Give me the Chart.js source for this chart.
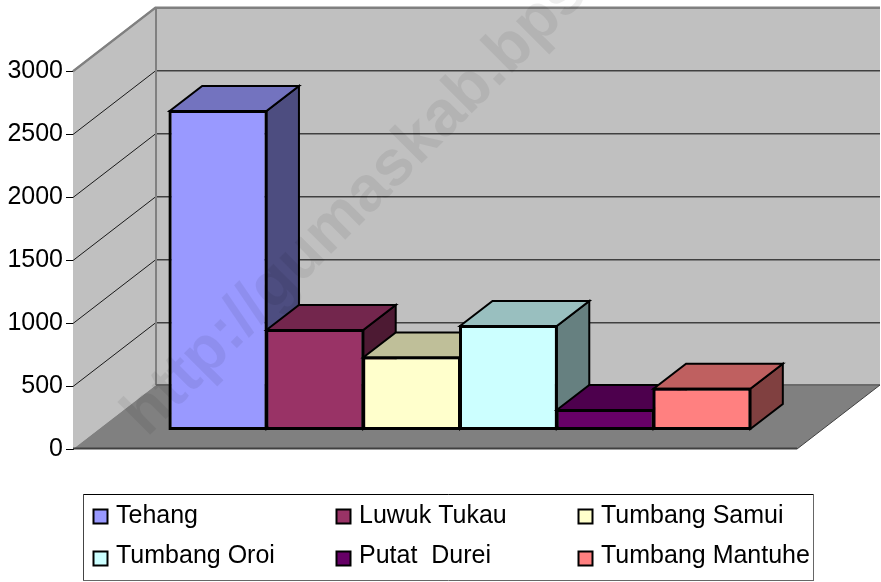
<!DOCTYPE html>
<html><head><meta charset="utf-8">
<script src="https://cdn.jsdelivr.net/npm/chart.js@4/dist/chart.umd.min.js"></script>
<style>html,body{margin:0;padding:0;background:#fff;overflow:hidden}canvas{display:block}</style>
</head><body><canvas id="c" width="881" height="582"></canvas>
<script>
const categories = [''];
const seriesNames = ['Tehang','Luwuk Tukau','Tumbang Samui','Tumbang Oroi','Putat  Durei','Tumbang Mantuhe'];
const seriesValues = [2528,790,571,821,155,324];
const tickStep = 500;
const tickMax = 3000;
const colors = ['#9999ff','#993366','#ffffcc','#ccffff','#660066','#ff8080'];
const watermark = 'http://gumaskab.bps.go.id';

const FONT = '"Liberation Sans", Arial, sans-serif';
const WALL = {dx:83, dy:-64};          // depth of the floor / walls
const BAR_OFF = {dx:25, dy:-19.5};     // where the bar row sits on the floor
const BAR_D = {dx:32.5, dy:-25};       // depth of a bar

function shade(hex,f){
  const n=parseInt(hex.slice(1),16);
  return `rgb(${Math.round((n>>16&255)*f)},${Math.round((n>>8&255)*f)},${Math.round((n&255)*f)})`;
}
function poly(ctx,pts,fill,stroke,lw){
  ctx.beginPath();
  pts.forEach((p,i)=>i?ctx.lineTo(p[0],p[1]):ctx.moveTo(p[0],p[1]));
  ctx.closePath();
  if(fill){ctx.fillStyle=fill;ctx.fill();}
  if(stroke){ctx.strokeStyle=stroke;ctx.lineWidth=lw;ctx.lineJoin='miter';ctx.stroke();}
}
function line(ctx,x1,y1,x2,y2,c,w){
  ctx.beginPath();ctx.moveTo(x1,y1);ctx.lineTo(x2,y2);ctx.strokeStyle=c;ctx.lineWidth=w;ctx.stroke();
}

const scene = {
  id:'scene',
  beforeDatasetsDraw(chart){
    const {ctx,chartArea:a,scales:{y}} = chart;
    const L=a.left,R=a.right,T=a.top,B=a.bottom,dx=WALL.dx,dy=WALL.dy;
    ctx.save();
    // walls
    poly(ctx,[[L+dx,T+dy],[R+dx,T+dy],[R+dx,B+dy],[L+dx,B+dy]],'#c0c0c0');
    poly(ctx,[[L,T],[L+dx,T+dy],[L+dx,B+dy],[L,B]],'#c0c0c0');
    // floor
    poly(ctx,[[L,B],[R,B],[R+dx,B+dy],[L+dx,B+dy]],'#808080');
    // grid
    y.ticks.forEach(t=>{
      const p=Math.round(y.getPixelForValue(t.value))+0.5;
      if(t.value!==0){
        line(ctx,L+dx,p+dy+0.5,R+dx,p+dy+0.5,'#808080',2);
        line(ctx,L+dx,p+dy,R+dx,p+dy,'#404040',1);
        line(ctx,L,p,L+dx,p+dy,t.value===tickMax?'#808080':'#1a1a1a',t.value===tickMax?2:1);
      }
    });
    line(ctx,L+dx,T+dy+0.5,R+dx,T+dy+0.5,'#808080',2);
    line(ctx,L,T,L+dx,T+dy,'#808080',2);
    line(ctx,L+dx,T+dy,L+dx,B+dy,'#808080',2);
    line(ctx,L+dx,B+dy,R+dx,B+dy,'#6a6a6a',2);
    line(ctx,R,B,R+dx,B+dy,'#404040',1);
    line(ctx,L,B-0.5,R,B-0.5,'#404040',2);
    // bars, left to right, each with its side and top
    ctx.translate(BAR_OFF.dx,BAR_OFF.dy);
    chart.data.datasets.forEach((ds,i)=>{
      chart.getDatasetMeta(i).data.forEach(el=>{
        const h=el.width/2, x0=el.x-h, x1=el.x+h, top=el.y, base=el.base;
        const c=colors[i], ex=BAR_D.dx, ey=BAR_D.dy;
        poly(ctx,[[x1,top],[x1+ex,top+ey],[x1+ex,base+ey],[x1,base]],shade(c,.5),'#000',2);
        poly(ctx,[[x0,top],[x0+ex,top+ey],[x1+ex,top+ey],[x1,top]],shade(c,.75),'#000',2);
        el.draw(ctx);
        poly(ctx,[[x0,top],[x1,top],[x1,base],[x0,base]],null,'#000',2);
      });
    });
    ctx.restore();
    return false;
  },
  afterDraw(chart){
    const {ctx}=chart;
    ctx.save();
    // legend
    ctx.fillStyle='#fff';
    ctx.fillRect(83.5,494.5,730,86);
    line(ctx,83,494.5,813.5,494.5,'#000',1);
    line(ctx,83.5,494,83.5,581,'#444',1);
    line(ctx,813.5,494,813.5,581,'#666',1);
    line(ctx,83,580.5,814,580.5,'#666',1);
    const colX=[93,336,578], rowY=[509,551], textY=[523,563];
    ctx.font='25px '+FONT;
    ctx.textBaseline='alphabetic';
    ctx.textAlign='left';
    seriesNames.forEach((n,i)=>{
      const r=Math.floor(i/3), x=colX[i%3], yy=rowY[r];
      ctx.fillStyle=colors[i];
      ctx.fillRect(x+.5,yy+.5,14,14);
      ctx.strokeStyle='#000';ctx.lineWidth=2;
      ctx.strokeRect(x+.5,yy+.5,14,14);
      ctx.fillStyle='#000';
      ctx.fillText(n,x+23,textY[r]);
    });
    // watermark
    ctx.translate(147,438);
    ctx.rotate(-Math.PI/4);
    ctx.font='bold 64px '+FONT;
    ctx.fillStyle='rgba(0,0,0,0.065)';
    ctx.fillText(watermark,0,0);
    ctx.restore();
  }
};

new Chart(document.getElementById('c').getContext('2d'),{
  type:'bar',
  data:{
    labels:categories,
    datasets:seriesNames.map((n,i)=>({
      label:n,
      data:[seriesValues[i]],
      backgroundColor:colors[i],
      borderColor:'#000',
      borderWidth:2,
      borderSkipped:false
    }))
  },
  options:{
    responsive:false,
    animation:false,
    events:[],
    categoryPercentage:0.802,
    barPercentage:1,
    layout:{padding:{top:71,right:84,bottom:133,left:0}},
    plugins:{legend:{display:false},tooltip:{enabled:false},title:{display:false}},
    scales:{
      x:{display:false},
      y:{
        min:0,max:tickMax,
        afterFit(s){s.width=73;},
        ticks:{stepSize:tickStep,color:'#000',font:{family:FONT,size:25},padding:3,callback:v=>String(v)},
        border:{display:true,color:'#000',width:1},
        grid:{drawOnChartArea:false,drawTicks:true,tickLength:7,color:'#000'}
      }
    }
  },
  plugins:[scene]
});
</script></body></html>
